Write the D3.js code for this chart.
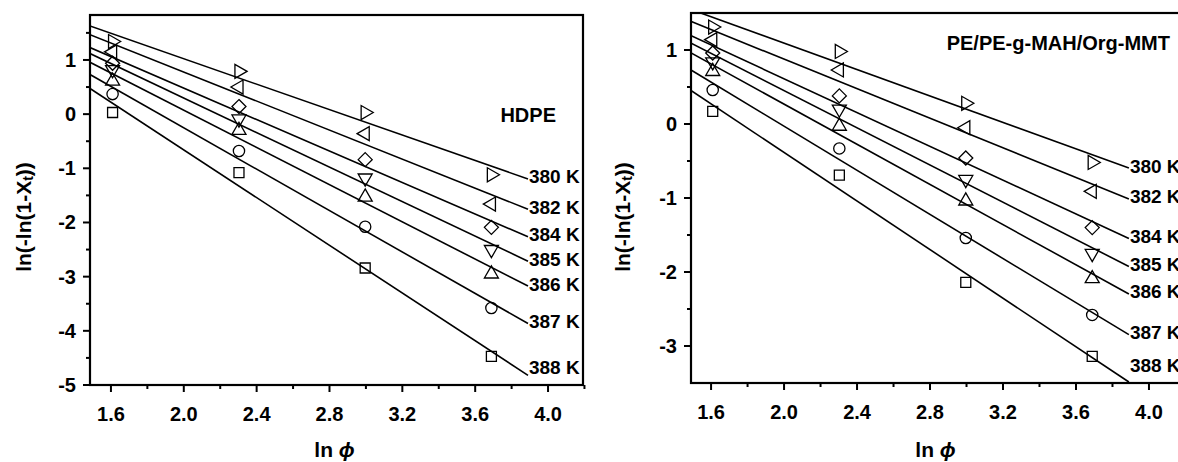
<!DOCTYPE html>
<html>
<head>
<meta charset="utf-8">
<script src="https://cdn.jsdelivr.net/npm/d3@7"></script>
<style>
  html, body { margin: 0; padding: 0; background: #fff; }
  svg { display: block; overflow: hidden; }
  text { font-family: "Liberation Sans", Arial, sans-serif; font-weight: bold; fill: #000; }
</style>
</head>
<body>
<svg id="chart" width="1178" height="462"></svg>
<script>
// ln(phi) for heating rates 5, 10, 20, 40
var lnPhi = [1.609, 2.303, 2.996, 3.689];
var tempLabels = ['380 K', '382 K', '384 K', '385 K', '386 K', '387 K', '388 K'];
var symbolNames = ['right', 'left', 'diamond', 'down', 'up', 'circle', 'square'];

// ln(-ln(1-Xt)), one row per temperature
var hdpeY = [
  [1.34, 0.79, 0.03, -1.12],
  [1.15, 0.50, -0.36, -1.66],
  [0.94, 0.14, -0.84, -2.09],
  [0.82, -0.09, -1.18, -2.50],
  [0.61, -0.30, -1.53, -2.95],
  [0.37, -0.68, -2.08, -3.58],
  [0.03, -1.08, -2.84, -4.47]
];
var compositeY = [
  [1.31, 0.98, 0.28, -0.52],
  [1.14, 0.73, -0.05, -0.91],
  [0.96, 0.38, -0.46, -1.40],
  [0.84, 0.20, -0.75, -1.75],
  [0.71, -0.03, -1.04, -2.09],
  [0.46, -0.33, -1.54, -2.58],
  [0.17, -0.69, -2.14, -3.14]
];
var xTicks = [1.6, 2.0, 2.4, 2.8, 3.2, 3.6, 4.0];
var xMinor = [1.8, 2.2, 2.6, 3.0, 3.4, 3.8, 4.2];
var lineStart = 1.485, lineEnd = 3.89;

var svg = d3.select('#chart');

function fit(xs, ys) {
  var mx = d3.mean(xs), my = d3.mean(ys);
  var sxy = 0, sxx = 0;
  xs.forEach(function (x, i) {
    sxy += (x - mx) * (ys[i] - my);
    sxx += (x - mx) * (x - mx);
  });
  var b = sxy / sxx;
  return { slope: b, icpt: my - b * mx };
}

function markerPath(name) {
  var s;
  if (name === 'circle') s = d3.symbol(d3.symbolCircle, 100);
  else if (name === 'square') s = d3.symbol(d3.symbolSquare, 100);
  else if (name === 'diamond') s = d3.symbol(d3.symbolDiamond2 || d3.symbolDiamond, 125);
  else s = d3.symbol(d3.symbolTriangle, 85);
  return s();
}
function markerRot(name) {
  return { right: 90, left: -90, down: 180, up: 0 }[name] || 0;
}

function drawPanel(cfg) {
  var x = d3.scaleLinear().domain(cfg.xDomain).range(cfg.xRange);
  var y = d3.scaleLinear().domain(cfg.yDomain).range(cfg.yRange);
  var g = svg.append('g');
  var top = cfg.yRange[1], bottom = cfg.yRange[0];
  var left = cfg.xRange[0], right = cfg.xRange[1];

  g.append('clipPath').attr('id', cfg.id + '_clip')
    .append('rect')
    .attr('x', left).attr('y', top)
    .attr('width', right - left).attr('height', bottom - top);

  // fitted lines
  var lineG = g.append('g').attr('clip-path', 'url(#' + cfg.id + '_clip)');
  cfg.values.forEach(function (ys, i) {
    var f = fit(lnPhi, ys);
    lineG.append('line')
      .attr('x1', x(lineStart)).attr('y1', y(f.icpt + f.slope * lineStart))
      .attr('x2', x(lineEnd)).attr('y2', y(f.icpt + f.slope * lineEnd))
      .attr('stroke', '#000').attr('stroke-width', 1.6);

    var ly = Math.min(y(f.icpt + f.slope * lineEnd) - 2, bottom - 18);
    g.append('text')
      .attr('x', x(lineEnd) + 1).attr('y', ly)
      .attr('dominant-baseline', 'central')
      .style('font-size', '19px')
      .text(tempLabels[i]);
  });

  // markers
  cfg.values.forEach(function (ys, i) {
    var name = symbolNames[i];
    g.selectAll('.pt' + i)
      .data(ys.map(function (v, j) { return { x: lnPhi[j], y: v }; }))
      .enter().append('path')
      .attr('class', 'pt' + i)
      .attr('d', markerPath(name))
      .attr('transform', function (d) {
        return 'translate(' + x(d.x) + ',' + y(d.y) + ') rotate(' + markerRot(name) + ')';
      })
      .attr('fill', 'none')
      .attr('stroke', '#000')
      .attr('stroke-width', 1.3);
  });

  // frame
  g.append('rect')
    .attr('x', left).attr('y', top)
    .attr('width', right - left).attr('height', bottom - top)
    .attr('fill', 'none').attr('stroke', '#000').attr('stroke-width', 2.2);

  // x axis ticks
  g.selectAll('.xMaj').data(xTicks).enter().append('line')
    .attr('x1', function (d) { return x(d); }).attr('x2', function (d) { return x(d); })
    .attr('y1', bottom).attr('y2', bottom + 7)
    .attr('stroke', '#000').attr('stroke-width', 2);
  g.selectAll('.xMin').data(xMinor).enter().append('line')
    .attr('x1', function (d) { return x(d); }).attr('x2', function (d) { return x(d); })
    .attr('y1', bottom).attr('y2', bottom + 4)
    .attr('stroke', '#000').attr('stroke-width', 2);
  g.selectAll('.xLab').data(xTicks).enter().append('text')
    .attr('x', function (d) { return x(d); })
    .attr('y', bottom + 36)
    .attr('text-anchor', 'middle')
    .style('font-size', '20px')
    .text(function (d) { return d.toFixed(1); });

  // y axis ticks
  g.selectAll('.yMaj').data(cfg.yTicks).enter().append('line')
    .attr('y1', function (d) { return y(d); }).attr('y2', function (d) { return y(d); })
    .attr('x1', left).attr('x2', left - 7)
    .attr('stroke', '#000').attr('stroke-width', 2);
  g.selectAll('.yMin').data(cfg.yMinor).enter().append('line')
    .attr('y1', function (d) { return y(d); }).attr('y2', function (d) { return y(d); })
    .attr('x1', left).attr('x2', left - 4)
    .attr('stroke', '#000').attr('stroke-width', 2);
  g.selectAll('.yLab').data(cfg.yTicks).enter().append('text')
    .attr('x', left - 14)
    .attr('y', function (d) { return y(d); })
    .attr('dominant-baseline', 'central')
    .attr('text-anchor', 'end')
    .style('font-size', '20px')
    .text(function (d) { return String(d); });

  // axis titles
  var xt = g.append('text')
    .attr('x', (left + right) / 2 - 2).attr('y', 457)
    .attr('text-anchor', 'middle')
    .style('font-size', '21px');
  xt.append('tspan').text('ln ');
  xt.append('tspan').style('font-style', 'italic').text('\u03d5');

  var yt = g.append('text')
    .attr('transform', 'translate(' + cfg.yTitleX + ',217) rotate(-90)')
    .attr('text-anchor', 'middle')
    .attr('dominant-baseline', 'central')
    .style('font-size', '21px');
  yt.append('tspan').text('ln(-ln(1-X');
  yt.append('tspan').attr('dy', 5).style('font-size', '14px').text('t');
  yt.append('tspan').attr('dy', -5).text('))');

  g.append('text')
    .attr('x', cfg.nameX).attr('y', cfg.nameY)
    .attr('text-anchor', 'end')
    .attr('dominant-baseline', 'central')
    .style('font-size', '20px')
    .text(cfg.name);
}

drawPanel({
  id: 'hdpe', name: 'HDPE', values: hdpeY,
  xDomain: [1.485, 4.192], xRange: [90, 583],
  yDomain: [-5, 1.83], yRange: [385, 15],
  yTicks: [1, 0, -1, -2, -3, -4, -5],
  yMinor: [1.5, 0.5, -0.5, -1.5, -2.5, -3.5, -4.5],
  yTitleX: 23, nameX: 556, nameY: 115
});

// the right panel runs past the page edge, as in the source figure
drawPanel({
  id: 'comp', name: 'PE/PE-g-MAH/Org-MMT', values: compositeY,
  xDomain: [1.49, 4.192], xRange: [691, 1184],
  yDomain: [-3.5, 1.5], yRange: [383, 13],
  yTicks: [1, 0, -1, -2, -3],
  yMinor: [0.5, -0.5, -1.5, -2.5],
  yTitleX: 622, nameX: 1170, nameY: 43
});
</script>
</body>
</html>
